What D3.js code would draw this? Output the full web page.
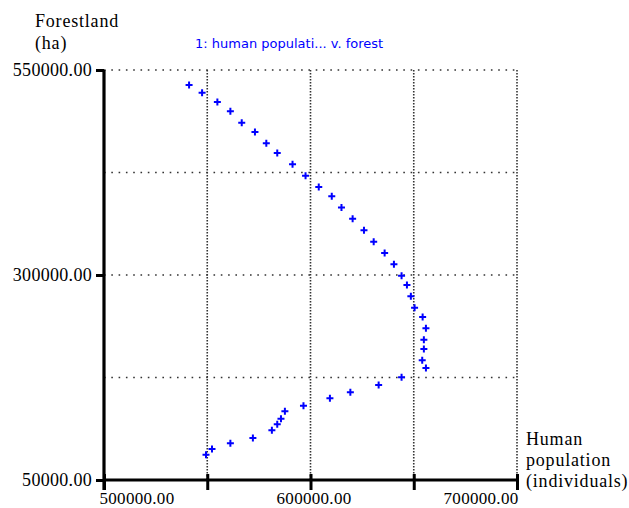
<!DOCTYPE html>
<html>
<head>
<meta charset="utf-8">
<script src="https://cdn.jsdelivr.net/npm/d3@7"></script>
<style>
  body { margin: 0; background: #fff; }
  svg { display: block; }
</style>
</head>
<body>
<div id="chart"></div>
<script>
// simulated trajectory: human population vs forestland, one point per step
const population = [
  541200, 547500, 554900, 561200, 566700, 573100, 578600, 583900, 591300, 597600,
  604000, 610300, 615000, 620400, 625900, 630600, 635900, 640400, 644100, 646700,
  648600, 650400, 654300, 655900, 654900, 654900, 654100, 655900, 644100, 633000,
  619300, 609400, 596600, 587600, 585700, 583900, 581300, 572100, 561200, 552300,
  549400
];
const forest = [
  531700, 522300, 511000, 499600, 485700, 474400, 460600, 448800, 435000, 421100,
  407300, 396000, 382300, 368700, 354500, 340600, 326800, 313100, 299100, 287800,
  274000, 260100, 248800, 235000, 221100, 209800, 196000, 186600, 175200, 165900,
  157000, 149800, 140600, 133800, 124800, 117900, 110600, 101200, 94800, 87800,
  80900
];
const xTicks = [500000, 550000, 600000, 650000, 700000];
const xLabels = [500000, 600000, 700000];
const yTicks = [50000, 175000, 300000, 425000, 550000];
const yLabels = [50000, 300000, 550000];
const seriesName = "1: human populati... v. forest";

const width = 629, height = 508;
const plot = {left: 104, right: 517, top: 70, bottom: 480};

const svg = d3.select("#chart")
    .append("svg")
    .attr("width", width)
    .attr("height", height);

const x = d3.scaleLinear()
    .domain([500000, 700000])
    .range([plot.left, plot.right]);

const y = d3.scaleLinear()
    .domain([50000, 550000])
    .range([plot.bottom, plot.top]);

const serif = "Liberation Serif, DejaVu Serif, Times New Roman, serif";

// dotted grid
svg.append("g")
    .selectAll("line")
    .data(yTicks.filter(d => d !== 50000))
    .enter()
    .append("line")
    .attr("x1", plot.left)
    .attr("x2", plot.right)
    .attr("y1", d => y(d))
    .attr("y2", d => y(d))
    .attr("stroke", "#333")
    .attr("stroke-width", 1.6)
    .attr("stroke-dasharray", "1.6,5.7");

svg.append("g")
    .selectAll("line")
    .data(xTicks.filter(d => d !== 500000))
    .enter()
    .append("line")
    .attr("x1", d => x(d))
    .attr("x2", d => x(d))
    .attr("y1", plot.top)
    .attr("y2", plot.bottom)
    .attr("stroke", "#333")
    .attr("stroke-width", 1.6)
    .attr("stroke-dasharray", "1.5,1.5");

// axes
const yAxis = svg.append("g")
    .attr("transform", `translate(${plot.left}, 0)`)
    .call(d3.axisLeft(y)
        .tickValues(yLabels)
        .tickSize(8)
        .tickPadding(4)
        .tickFormat(d3.format(".2f")));

const xAxis = svg.append("g")
    .attr("transform", `translate(0, ${plot.bottom})`)
    .call(d3.axisBottom(x)
        .tickValues(xTicks)
        .tickSize(10)
        .tickPadding(8)
        .tickFormat(d => xLabels.includes(d) ? d3.format(".2f")(d) : ""));

[yAxis, xAxis].forEach(g => {
    g.select(".domain")
        .attr("stroke", "#000")
        .attr("stroke-width", 3.2);
    g.selectAll(".tick line")
        .attr("stroke", "#000")
        .attr("stroke-width", 3);
    g.selectAll("text")
        .attr("fill", "#000")
        .attr("font-family", serif)
        .attr("font-size", 18)
        .style("font-family", serif)
        .style("font-size", "18px")
        .style("letter-spacing", "0.3px");
});

// left axis runs down past the bottom axis a little
yAxis.select(".domain").attr("d", `M0,${plot.top}V${plot.bottom + 10}`);
yAxis.selectAll(".tick line").attr("x2", -8);
yAxis.selectAll(".tick text").attr("dy", "0.32em");

xAxis.select(".domain").attr("d", `M${plot.left},0H${plot.right + 1}`);
xAxis.selectAll(".tick line").attr("y1", -6);
xAxis.selectAll(".tick text")
    .attr("y", 24)
    .attr("dy", 0)
    .style("font-size", "17px")
    .attr("text-anchor", d => d === 500000 ? "start" : d === 700000 ? "end" : "middle")
    .attr("dx", d => d === 500000 ? -5 : d === 700000 ? 1 : 3);

// axis titles
const yTitle = svg.append("text")
    .attr("x", 35)
    .attr("y", 27)
    .style("font-family", serif)
    .style("font-size", "18px")
    .style("letter-spacing", "0.8px");
yTitle.append("tspan").attr("x", 35).text("Forestland");
yTitle.append("tspan").attr("x", 35).attr("dy", 22).text("(ha)");

const xTitle = svg.append("text")
    .attr("x", 526)
    .attr("y", 445)
    .style("font-family", serif)
    .style("font-size", "18px")
    .style("letter-spacing", "0.8px");
xTitle.append("tspan").attr("x", 526).text("Human");
xTitle.append("tspan").attr("x", 526).attr("dy", 21).text("population");
xTitle.append("tspan").attr("x", 526).attr("dy", 21).text("(individuals)");

// series label
svg.append("text")
    .attr("x", 195)
    .attr("y", 48)
    .attr("fill", "#0000ff")
    .style("font-family", "DejaVu Sans, Verdana, sans-serif")
    .style("font-size", "13px")
    .text(seriesName);

// points drawn as small plus signs
const points = population.map((p, i) => ({pop: p, forest: forest[i]}));

svg.append("g")
    .selectAll("path")
    .data(points)
    .enter()
    .append("path")
    .attr("transform", d => `translate(${x(d.pop)}, ${y(d.forest)})`)
    .attr("d", "M-3.5,0H3.5M0,-3.5V3.5")
    .attr("stroke", "#0000ff")
    .attr("stroke-width", 2)
    .attr("fill", "none");
</script>
</body>
</html>
